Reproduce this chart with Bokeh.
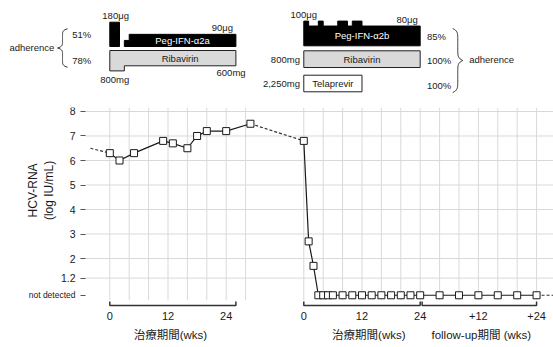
import numpy as np
from bokeh.plotting import figure
from bokeh.layouts import column
from bokeh.models import Range1d, FixedTicker, LinearAxis, ColumnDataSource
from bokeh.core.properties import value
from bokeh.embed import file_html
from bokeh.resources import INLINE

FONT = "'Liberation Sans', 'Noto Sans CJK JP', sans-serif"
INK = "#1a1a1a"
GRID = "#d9d9d9"

# ---------------- data ----------------
ND = 0.5                 # plotting level used for "not detected"
COURSE2_X = 40           # x position where week 0 of the 2nd course is drawn

# 1st course (Peg-IFN-a2a + ribavirin)
c1_weeks = [0, 2, 5, 11, 13, 16, 18, 20, 24, 29]
c1_rna = [6.3, 6.0, 6.3, 6.8, 6.7, 6.5, 7.0, 7.2, 7.2, 7.5]
c1_lead_weeks = [-4, 0]
c1_lead_rna = [6.5, 6.3]

# 2nd course (Peg-IFN-a2b + ribavirin + telaprevir) and follow-up
c2_weeks = [0, 1, 2, 3, 4, 5, 6, 8, 10, 12, 14, 16, 18, 20, 22, 24,
            28, 32, 36, 40, 44, 48]
c2_rna = [6.8, 2.7, 1.7, ND, ND, ND, ND, ND, ND, ND, ND, ND, ND, ND, ND, ND,
          ND, ND, ND, ND, ND, ND]
c2_tail_weeks = [48, 52]
c2_tail_rna = [ND, ND]

x_tick_pos = [0, 12, 24, 40, 52, 64, 76, 88]
x_tick_labels = ["0", "12", "24", "0", "12", "24", "+12", "+24"]
y_tick_values = [1.2, 2, 3, 4, 5, 6, 7, 8]
y_tick_labels = ["1.2", "2", "3", "4", "5", "6", "7", "8"]
nd_label = "not detected"
grid_weeks = [0, 4, 8, 12, 16, 20, 24, 28,
              40, 44, 48, 52, 56, 60, 64, 68, 72, 76, 80, 84, 88]
period_spans = [(0, 26), (40, 64), (64.4, 88)]
period_titles = ["治療期間(wks)", "治療期間(wks)", "follow-up期間 (wks)"]
period_title_pos = [12.5, 53.4, 76.6]
y_title = ["HCV-RNA", "(log IU/mL)"]

# dosing schedules: (start week, end week, dose)
peg2a = [(0, 2, 180), (3, 4, 45), (4, 26, 90)]
rbv1 = [(0, 3, 800), (3, 26, 600)]
peg2b = [(0, 1, 100), (1, 3, 80), (3, 4, 100), (4, 7, 80), (7, 9, 100),
         (9, 10, 80), (10, 12, 100), (12, 24, 80)]
rbv2 = [(0, 24, 800)]
tvr = [(0, 12, 2250)]
adherence1 = ["51%", "78%"]
adherence2 = ["85%", "100%", "100%"]

# ---------------- layout constants ----------------
W = 553
TOP_H, BOT_H = 104, 243
PX_PER_WK = 4.85
X_START, X_END = -22.54, 91.49     # shared week scale of both panels
YAXIS_X = -5.01                    # where the y axis sits
Y_START, Y_END = -0.04, 8.163
GRID_BOTTOM = 0.3


def step_patches(periods, base, scale, x0=0.0, up=True):
    runs, cur = [], [periods[0]]
    for p in periods[1:]:
        if p[0] == cur[-1][1]:
            cur.append(p)
        else:
            runs.append(cur)
            cur = [p]
    runs.append(cur)
    sign = -1 if up else 1
    xs_all, ys_all = [], []
    for r in runs:
        xs = [x0 + r[0][0]]
        ys = [base]
        for s, e, d in r:
            xs += [x0 + s, x0 + e]
            ys += [base + sign * d * scale] * 2
        xs.append(x0 + r[-1][1])
        ys.append(base)
        xs_all.append(xs)
        ys_all.append(ys)
    return xs_all, ys_all


def brace(x_tip, y0, y1, width_px, direction, n=40):
    ym = (y0 + y1) / 2
    ya = np.linspace(y0, ym, n)
    sa = (ya - y0) / (ym - y0)
    yb = np.linspace(ym, y1, n)
    sb = (y1 - yb) / (y1 - ym)
    off = np.concatenate([width_px * (0.5 + 0.5 * (1 - 2 * sa) ** 7),
                          width_px * (0.5 + 0.5 * (1 - 2 * sb) ** 7)])
    xs = x_tip - direction * off / PX_PER_WK
    return list(xs), list(np.concatenate([ya, yb]))


def txt(p, xs, ys, texts, size="9.5px", align="center", baseline="middle",
        color=INK, angle=0.0):
    src = ColumnDataSource(dict(x=list(xs), y=list(ys), t=list(texts)))
    p.text(x="x", y="y", text="t", source=src, text_font=value(FONT),
           text_font_size=value(size), text_align=align, text_baseline=baseline,
           text_color=color, angle=angle)


def style_y_axis(ax, size):
    ax.fixed_location = YAXIS_X
    ax.axis_line_color = None
    ax.major_tick_out = 5
    ax.major_tick_in = 0
    ax.major_tick_line_color = "#555555"
    ax.minor_tick_line_color = None
    ax.major_label_standoff = 5
    ax.major_label_text_font = FONT
    ax.major_label_text_font_size = size
    ax.major_label_text_color = INK


# ---------------- top panel: dosing ----------------
top = figure(width=W, height=TOP_H, x_range=Range1d(X_START, X_END),
             y_range=Range1d(TOP_H, 0), output_backend="svg", toolbar_location=None,
             x_axis_location=None, y_axis_location=None, min_border=0,
             outline_line_color=None)
top.grid.visible = False

PEG1_BASE, PEG1_SCALE = 46.0, 0.135
RBV1_TOP, RBV1_SCALE = 50.0, 0.0255
PEG2_BASE, PEG2_SCALE = 45.3, 0.247
RBV2_TOP, RBV2_SCALE = 50.3, 0.0209
TVR_TOP, TVR_SCALE = 74.7, 0.00738

xs, ys = step_patches(peg2a, PEG1_BASE, PEG1_SCALE, 0, up=True)
top.patches(xs, ys, fill_color="black", line_color="black", line_width=1)
xs, ys = step_patches(rbv1, RBV1_TOP, RBV1_SCALE, 0, up=False)
top.patches(xs, ys, fill_color="#d9d9d9", line_color="#222222", line_width=1)
xs, ys = step_patches(peg2b, PEG2_BASE, PEG2_SCALE, COURSE2_X, up=True)
top.patches(xs, ys, fill_color="black", line_color="black", line_width=1)
xs, ys = step_patches(rbv2, RBV2_TOP, RBV2_SCALE, COURSE2_X, up=False)
top.patches(xs, ys, fill_color="#d9d9d9", line_color="#222222", line_width=1)
xs, ys = step_patches(tvr, TVR_TOP, TVR_SCALE, COURSE2_X, up=False)
top.patches(xs, ys, fill_color="white", line_color="#222222", line_width=1)

# dose labels, left course
p0, pl = peg2a[0], peg2a[-1]
txt(top, [(p0[0] + p0[1]) / 2 + 0.2], [PEG1_BASE - p0[2] * PEG1_SCALE - 1.5], [f"{p0[2]}μg"], baseline="bottom")
txt(top, [pl[1] - 0.6], [PEG1_BASE - pl[2] * PEG1_SCALE - 1.5], [f"{pl[2]}μg"], align="right", baseline="bottom")
txt(top, [(pl[0] + pl[1]) / 2], [PEG1_BASE - pl[2] * PEG1_SCALE / 2], ["Peg-IFN-α2a"], color="white")
r0, rl = rbv1[0], rbv1[-1]
txt(top, [(rl[0] + rl[1]) / 2], [RBV1_TOP + rl[2] * RBV1_SCALE / 2], ["Ribavirin"])
txt(top, [1.0], [RBV1_TOP + r0[2] * RBV1_SCALE + 3.5], [f"{r0[2]}mg"], baseline="top")
txt(top, [rl[1] - 1.0], [RBV1_TOP + rl[2] * RBV1_SCALE + 1.5], [f"{rl[2]}mg"], baseline="top")
txt(top, [-7.75, -7.75], [PEG1_BASE - 12, RBV1_TOP + 10], adherence1, align="left")
bx, by = brace(-10.78, 28.3, 66.7, 10, -1)
top.line(bx, by, line_color="#333333", line_width=1)
txt(top, [-11.45], [46.5], ["adherence"], align="right")

# dose labels, right course
q0, ql = peg2b[0], peg2b[-1]
txt(top, [COURSE2_X + q0[0]], [PEG2_BASE - q0[2] * PEG2_SCALE - 1.5], [f"{q0[2]}μg"], baseline="bottom")
txt(top, [COURSE2_X + ql[1] - 0.5], [PEG2_BASE - ql[2] * PEG2_SCALE - 1.5], [f"{ql[2]}μg"], align="right", baseline="bottom")
txt(top, [COURSE2_X + (q0[0] + ql[1]) / 2], [PEG2_BASE - ql[2] * PEG2_SCALE / 2], ["Peg-IFN-α2b"], color="white")
txt(top, [COURSE2_X + (rbv2[0][0] + rbv2[0][1]) / 2], [RBV2_TOP + rbv2[0][2] * RBV2_SCALE / 2], ["Ribavirin"])
txt(top, [COURSE2_X + (tvr[0][0] + tvr[0][1]) / 2], [TVR_TOP + tvr[0][2] * TVR_SCALE / 2], ["Telaprevir"])
txt(top, [COURSE2_X - 0.8, COURSE2_X - 0.8],
    [RBV2_TOP + rbv2[0][2] * RBV2_SCALE / 2, TVR_TOP + tvr[0][2] * TVR_SCALE / 2],
    [f"{rbv2[0][2]:,}mg", f"{tvr[0][2]:,}mg"], align="right")
txt(top, [65.4, 65.4, 65.4],
    [PEG2_BASE - ql[2] * PEG2_SCALE / 2 + 1, RBV2_TOP + rbv2[0][2] * RBV2_SCALE / 2 + 1.5,
     TVR_TOP + tvr[0][2] * TVR_SCALE / 2 + 1.5], adherence2, align="left")
bx, by = brace(72.78, 28.0, 92.0, 10, 1)
top.line(bx, by, line_color="#333333", line_width=1)
txt(top, [74.1], [58.5], ["adherence"], align="left")

# ---------------- bottom panel: HCV-RNA ----------------
bot = figure(width=W, height=BOT_H, x_range=Range1d(X_START, X_END),
             y_range=Range1d(Y_START, Y_END), output_backend="svg",
             toolbar_location=None, min_border_left=0, min_border_right=0,
             min_border_top=3, min_border_bottom=39, outline_line_color=None)
bot.grid.visible = False

# grid lines (horizontal from the axis to the right edge, vertical per 4 weeks)
hy = y_tick_values
bot.segment(x0=[YAXIS_X] * len(hy), y0=hy, x1=[X_END + 5] * len(hy), y1=hy,
            line_color=GRID, line_width=1)
gx = grid_weeks
bot.segment(x0=gx, y0=[GRID_BOTTOM] * len(gx), x1=gx, y1=[Y_END] * len(gx),
            line_color=GRID, line_width=1)

# brackets under the periods
bxs = [[a, a, b, b] for a, b in period_spans]
bys = [[0.245, 0.08, 0.08, 0.245] for _ in period_spans]
bot.multi_line(bxs, bys, line_color="#333333", line_width=1.5)

# data lines
c2_x = [COURSE2_X + w for w in c2_weeks]
bot.line(c1_lead_weeks, c1_lead_rna, line_color="#333333", line_width=1.2, line_dash="3 2")
bot.line([c1_weeks[-1], c2_x[0]], [c1_rna[-1], c2_rna[0]], line_color="#333333",
         line_width=1.2, line_dash="3 2")
bot.line([COURSE2_X + w for w in c2_tail_weeks], c2_tail_rna, line_color="#333333",
         line_width=1.2, line_dash="3 2")
bot.line(c1_weeks, c1_rna, line_color=INK, line_width=1.2)
bot.line(c2_x, c2_rna, line_color=INK, line_width=1.2)
bot.scatter(c1_weeks, c1_rna, marker="square", size=7, fill_color="white",
            line_color=INK, line_width=1)
bot.scatter(c2_x, c2_rna, marker="square", size=7, fill_color="white",
            line_color=INK, line_width=1)

# y axis title (two rotated lines)
txt(bot, [-15.94, -12.64], [4.78, 4.78], y_title, size="12px", angle=np.pi / 2)

# y axis (numbers), pinned at the left edge of the data area
ya = bot.yaxis[0]
ya.ticker = FixedTicker(ticks=y_tick_values)
ya.major_label_overrides = {v: l for v, l in zip(y_tick_values, y_tick_labels)}
style_y_axis(ya, "10.5px")

# second y axis at the same place for the smaller "not detected" tick
ya_nd = LinearAxis(ticker=FixedTicker(ticks=[ND]), major_label_overrides={ND: nd_label})
style_y_axis(ya_nd, "8.5px")
bot.add_layout(ya_nd, "left")

# x axis (tick numbers)
xa = bot.xaxis[0]
xa.ticker = FixedTicker(ticks=x_tick_pos)
xa.major_label_overrides = {v: l for v, l in zip(x_tick_pos, x_tick_labels)}
xa.axis_line_color = None
xa.major_tick_out = 0
xa.major_tick_in = 0
xa.major_tick_line_color = None
xa.minor_tick_line_color = None
xa.major_label_standoff = 3
xa.major_label_text_font = FONT
xa.major_label_text_font_size = "11px"
xa.major_label_text_color = INK

# second x axis row: period titles
xa2 = LinearAxis(ticker=FixedTicker(ticks=period_title_pos),
                 major_label_overrides={v: l for v, l in zip(period_title_pos, period_titles)})
xa2.axis_line_color = None
xa2.major_tick_out = 0
xa2.major_tick_in = 0
xa2.major_tick_line_color = None
xa2.minor_tick_line_color = None
xa2.major_label_standoff = 6
xa2.major_label_text_font = FONT
xa2.major_label_text_font_size = "11.5px"
xa2.major_label_text_color = INK
bot.add_layout(xa2, "below")

layout = column(top, bot, spacing=0)
open("out.html", "w").write(file_html(layout, INLINE))
